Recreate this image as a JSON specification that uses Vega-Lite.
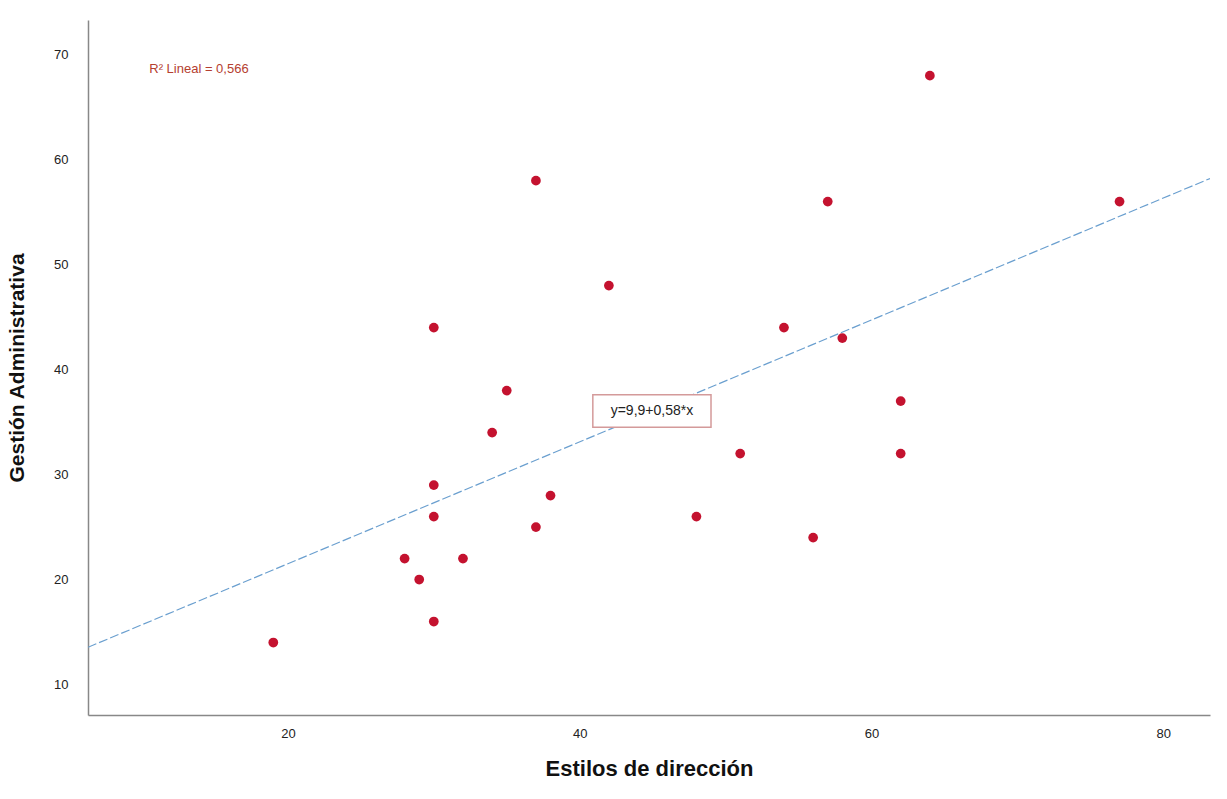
{
  "$schema": "https://vega.github.io/schema/vega-lite/v6.json",
  "width": 1122,
  "height": 695,
  "autosize": "none",
  "padding": {"left": 88, "top": 20, "right": 17, "bottom": 84},
  "background": "white",
  "config": {
    "view": {"stroke": null},
    "font": "Liberation Sans"
  },
  "datasets": {
    "points": [
      {"estilos": 19, "gestion": 14},
      {"estilos": 28, "gestion": 22},
      {"estilos": 29, "gestion": 20},
      {"estilos": 30, "gestion": 16},
      {"estilos": 30, "gestion": 26},
      {"estilos": 30, "gestion": 29},
      {"estilos": 30, "gestion": 44},
      {"estilos": 32, "gestion": 22},
      {"estilos": 34, "gestion": 34},
      {"estilos": 35, "gestion": 38},
      {"estilos": 37, "gestion": 58},
      {"estilos": 37, "gestion": 25},
      {"estilos": 38, "gestion": 28},
      {"estilos": 42, "gestion": 48},
      {"estilos": 48, "gestion": 26},
      {"estilos": 51, "gestion": 32},
      {"estilos": 54, "gestion": 44},
      {"estilos": 56, "gestion": 24},
      {"estilos": 57, "gestion": 56},
      {"estilos": 58, "gestion": 43},
      {"estilos": 62, "gestion": 37},
      {"estilos": 62, "gestion": 32},
      {"estilos": 64, "gestion": 68},
      {"estilos": 77, "gestion": 56}
    ],
    "fit": [
      {"estilos": 6.3, "gestion": 13.55},
      {"estilos": 83.2, "gestion": 58.2}
    ],
    "r2": [
      {"estilos": 10.5, "gestion": 68.6, "label": "R² Lineal = 0,566"}
    ],
    "eqbox": [
      {"x1": 40.9, "x2": 49.0, "y1": 34.5, "y2": 37.6}
    ],
    "eq": [
      {"estilos": 44.95, "gestion": 36.05, "label": "y=9,9+0,58*x"}
    ]
  },
  "layer": [
    {
      "data": {"name": "fit"},
      "mark": {"type": "line", "color": "#6a9fcf", "strokeWidth": 1.2, "strokeDash": [9, 3], "clip": true},
      "encoding": {
        "x": {
          "field": "estilos", "type": "quantitative",
          "scale": {"domain": [6.3, 83.2], "nice": false, "zero": false},
          "axis": {
            "title": "Estilos de dirección",
            "titleFont": "Liberation Sans", "titleFontSize": 22, "titleFontWeight": "bold", "titleColor": "#111",
            "titlePadding": 18,
            "values": [20, 40, 60, 80],
            "labelFontSize": 13, "labelColor": "#222", "labelPadding": 12,
            "ticks": false, "grid": false,
            "domainColor": "#888", "domainWidth": 1.5
          }
        },
        "y": {
          "field": "gestion", "type": "quantitative",
          "scale": {"domain": [7.1, 73.3], "nice": false, "zero": false},
          "axis": {
            "title": "Gestión Administrativa",
            "titleFont": "Liberation Sans", "titleFontSize": 21, "titleFontWeight": "bold", "titleColor": "#111",
            "titlePadding": 26,
            "values": [10, 20, 30, 40, 50, 60, 70],
            "labelFontSize": 13, "labelColor": "#222", "labelPadding": 20,
            "ticks": false, "grid": false,
            "domainColor": "#888", "domainWidth": 1.5
          }
        }
      }
    },
    {
      "data": {"name": "points"},
      "mark": {"type": "circle", "color": "#c4122f", "size": 95, "opacity": 1},
      "encoding": {
        "x": {"field": "estilos", "type": "quantitative"},
        "y": {"field": "gestion", "type": "quantitative"}
      }
    },
    {
      "data": {"name": "eqbox"},
      "mark": {"type": "rect", "fill": "white", "stroke": "#d49a9a", "strokeWidth": 1.5},
      "encoding": {
        "x": {"field": "x1", "type": "quantitative"},
        "x2": {"field": "x2"},
        "y": {"field": "y1", "type": "quantitative"},
        "y2": {"field": "y2"}
      }
    },
    {
      "data": {"name": "eq"},
      "mark": {"type": "text", "fontSize": 14, "color": "#222", "align": "center", "baseline": "middle"},
      "encoding": {
        "x": {"field": "estilos", "type": "quantitative"},
        "y": {"field": "gestion", "type": "quantitative"},
        "text": {"field": "label"}
      }
    },
    {
      "data": {"name": "r2"},
      "mark": {"type": "text", "fontSize": 13, "color": "#b5402f", "align": "left", "baseline": "middle"},
      "encoding": {
        "x": {"field": "estilos", "type": "quantitative"},
        "y": {"field": "gestion", "type": "quantitative"},
        "text": {"field": "label"}
      }
    }
  ]
}
